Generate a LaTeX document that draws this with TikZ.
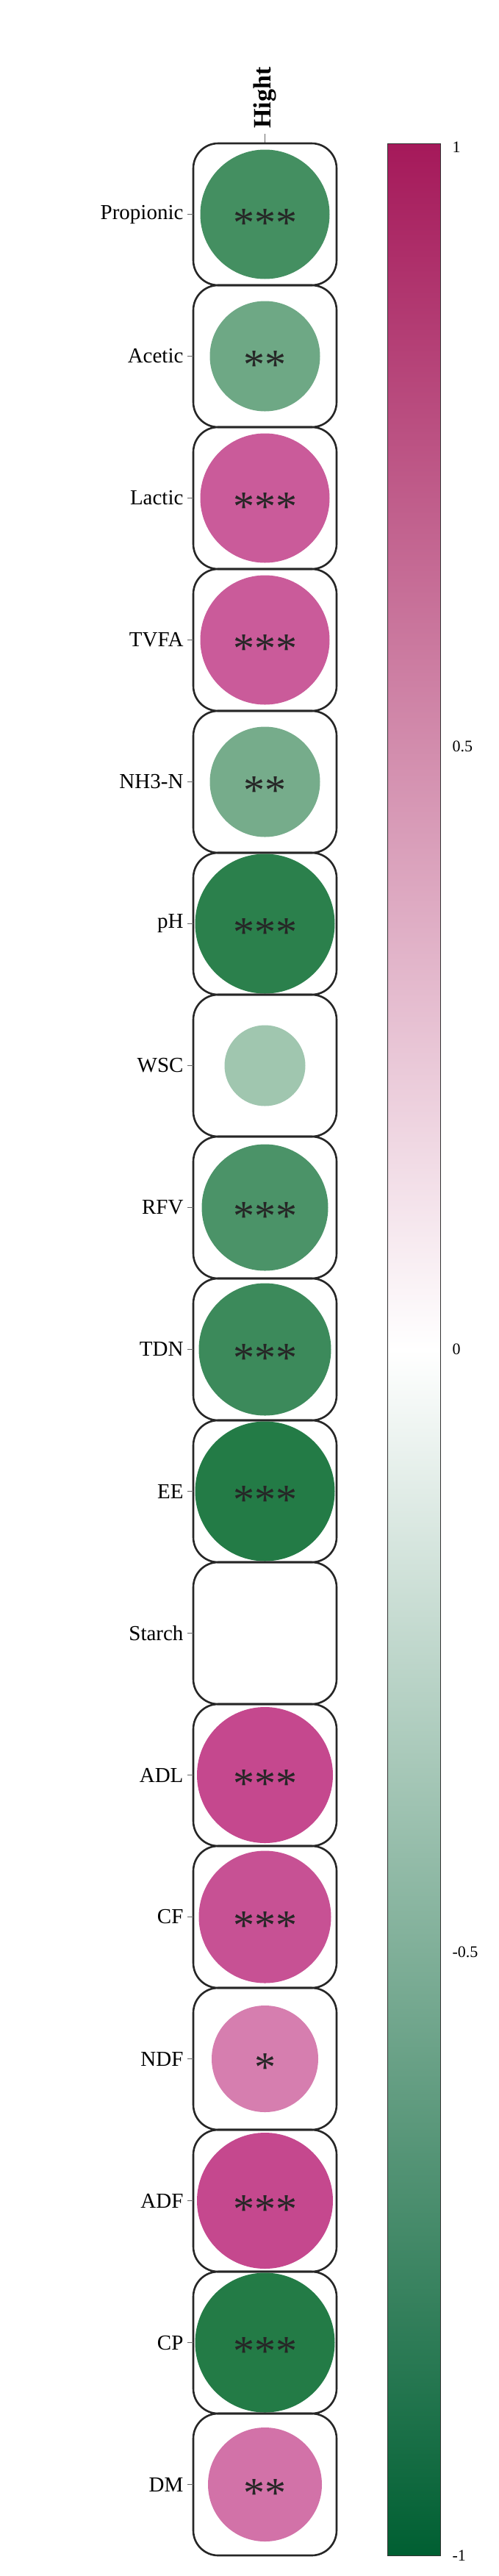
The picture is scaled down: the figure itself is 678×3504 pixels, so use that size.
\documentclass[tikz,border=0pt]{standalone}
\usepackage{fontspec}
\setmainfont{Liberation Serif}
\begin{document}
\begin{tikzpicture}[x=1pt,y=-1pt,
  cellbox/.style={draw=black!85,line width=2.6pt,rounded corners=34pt},
  lbl/.style={font=\fontsize{29}{29}\selectfont,anchor=east},
  stars/.style={font=\fontsize{58}{58}\selectfont,text=black!85},
  tick/.style={line width=1pt,black!60},
  cbl/.style={font=\fontsize{22}{22}\selectfont,anchor=west}]
\definecolor{gbase}{RGB}{5,105,45}
\definecolor{pbase}{RGB}{180,20,110}
\definecolor{ptop}{RGB}{165,25,90}
\definecolor{gbot}{RGB}{0,95,50}
\useasboundingbox (0,0) rectangle (678,3504);
\node[rotate=90,anchor=west,font=\bfseries\fontsize{34}{34}\selectfont] (hdr) at (360,178) {Hight};
\draw[tick] (360,182) -- (360,195);
\foreach \i/\name/\d/\c/\t/\s in {
 0/Propionic/176/g/75/{***},
 1/Acetic/150/g/58/{**},
 2/Lactic/176/p/70/{***},
 3/TVFA/176/p/70/{***},
 4/NH3-N/150/g/55/{**},
 5/pH/190/g/85/{***},
 6/WSC/110/g/38/{},
 7/RFV/172/g/72/{***},
 8/TDN/180/g/78/{***},
 9/EE/190/g/88/{***},
 10/Starch/0/g/0/{},
 11/ADL/185/p/78/{***},
 12/CF/180/p/74/{***},
 13/NDF/145/p/55/{*},
 14/ADF/185/p/78/{***},
 15/CP/190/g/88/{***},
 16/DM/155/p/60/{**}} {
  \pgfmathsetmacro{\yc}{195+193*\i+96.5}
  \draw[cellbox] (263,{195+193*\i}) rectangle (458,{195+193*(\i+1)});
  \ifnum\d>0
    \fill[\c base!\t!white] (360.5,\yc) ellipse ({\d/2} and {\d/2});
  \fi
  \node[stars] (s\i) at (360.5,\yc+12) {\s};
  \draw[tick] (255,\yc) -- (263,\yc);
  \node[lbl] (l\i) at (253,\yc) {\name};
}
\shade[top color=ptop,bottom color=white] (527,195) rectangle (599,1835.5);
\shade[top color=white,bottom color=gbot] (527,1835.5) rectangle (599,3476);
\draw[line width=1pt,black!80] (527,195) rectangle (599,3476);
\node[cbl] (c1) at (612,200) {1};
\node[cbl] (c2) at (612,1015) {0.5};
\node[cbl] (c3) at (612,1835) {0};
\node[cbl] (c4) at (612,2655) {-0.5};
\node[cbl] (c5) at (612,3476) {-1};
\end{tikzpicture}
\end{document}
